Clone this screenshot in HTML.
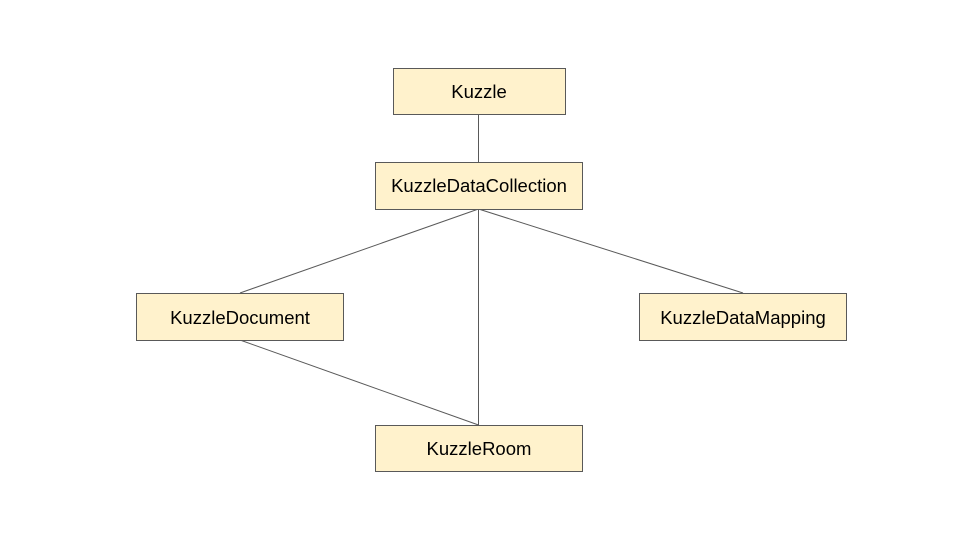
<!DOCTYPE html>
<html><head><style>
body{margin:0;background:#fff;width:960px;height:540px;overflow:hidden}
</style></head><body>
<svg width="960" height="540" xmlns="http://www.w3.org/2000/svg" font-family="Liberation Sans, sans-serif" font-size="18.5">
<g stroke="#595959" stroke-width="1" fill="none">
<line x1="478.5" y1="114" x2="478.5" y2="162"/>
<line x1="478.5" y1="209" x2="240" y2="293"/>
<line x1="478.5" y1="209" x2="478.5" y2="425"/>
<line x1="478.5" y1="209" x2="743" y2="293"/>
<line x1="240" y1="340" x2="478.5" y2="425"/>
</g>
<g fill="#fff2cc" stroke="#595959" stroke-width="1">
<rect x="393.5" y="68.5" width="172" height="46"/>
<rect x="375.5" y="162.5" width="207" height="47"/>
<rect x="136.5" y="293.5" width="207" height="47"/>
<rect x="639.5" y="293.5" width="207" height="47"/>
<rect x="375.5" y="425.5" width="207" height="46"/>
</g>
<g fill="#000" text-anchor="middle">
<text x="479" y="98">Kuzzle</text>
<text x="479" y="192">KuzzleDataCollection</text>
<text x="240" y="324">KuzzleDocument</text>
<text x="743" y="324">KuzzleDataMapping</text>
<text x="479" y="455">KuzzleRoom</text>
</g>
</svg>
</body></html>
